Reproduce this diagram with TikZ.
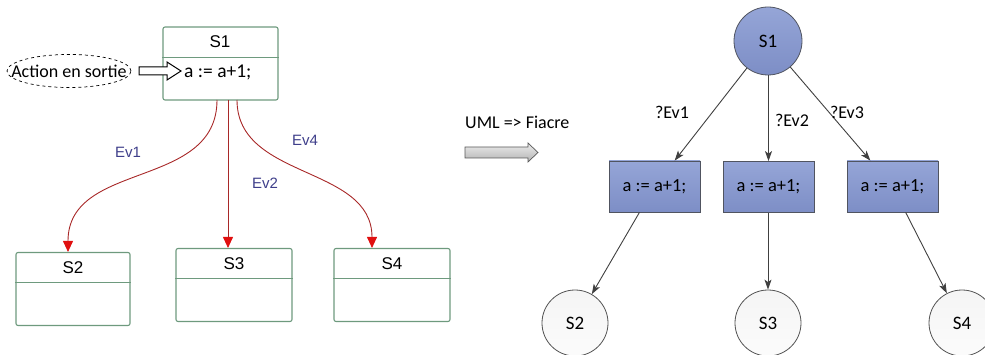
\documentclass[tikz,border=0pt]{standalone}
\usepackage{fontspec}
\setmainfont{Carlito}
\newfontfamily\arialf{Liberation Sans}
\usetikzlibrary{shapes.geometric,arrows.meta}
\definecolor{umlgreen}{HTML}{6E9A7E}
\definecolor{umlred}{HTML}{A82828}
\definecolor{headred}{HTML}{E01010}
\definecolor{evblue}{HTML}{3E3E8A}
\definecolor{fbluetop}{HTML}{95A5D7}
\definecolor{fbluebot}{HTML}{7D8EC6}
\definecolor{fborder}{HTML}{505460}
\definecolor{garrow}{HTML}{404040}
\begin{document}
\begin{tikzpicture}[x=1pt,y=-1pt,
  umlbox/.style={draw=umlgreen,line width=1.1pt,rounded corners=2pt,inner sep=0pt,fill=white},
  umltxt/.style={font=\arialf\fontsize{17}{19}\selectfont,inner sep=0pt},
  evtxt/.style={font=\arialf\fontsize{15}{17}\selectfont,text=evblue,inner sep=0pt},
  redarr/.style={draw=umlred,line width=0.9pt,-{Triangle[length=11pt,width=10pt,fill=headred,color=headred]}},
  ctxt/.style={font=\fontsize{18}{20}\selectfont,inner sep=0pt},
  fstate/.style={circle,draw=fborder,line width=0.8pt,top color=fbluetop,bottom color=fbluebot,minimum size=68pt,inner sep=0pt,font=\fontsize{19}{21}\selectfont},
  fbox/.style={rectangle,draw=fborder,line width=0.8pt,top color=fbluetop,bottom color=fbluebot,minimum width=91pt,minimum height=51pt,inner sep=0pt,font=\fontsize{18.5}{20}\selectfont},
  gstate/.style={circle,draw=garrow!90,line width=0.8pt,top color=gray!8,bottom color=gray!3,minimum size=66pt,inner sep=0pt,font=\fontsize{19}{21}\selectfont},
  farr/.style={draw=garrow,line width=0.9pt,-{Stealth[length=10pt,width=7pt,inset=2.5pt]}}
]
\useasboundingbox (0,0) rectangle (985,355);

% ---------- left: UML ----------
\node[umlbox,minimum width=115pt,minimum height=73pt] (L1) at (220.5,63.5) {};
\draw[umlgreen,line width=1.1pt] ([yshift=-31pt]L1.north west) -- ([yshift=-31pt]L1.north east);
\node[umltxt] (L1t) at (220,42) {S1};
\node[ctxt,anchor=west,font=\fontsize{19.5}{21}\selectfont] (L1a) at (184,72) {a := a+1;};

\node[ellipse,draw,dashed,line width=0.7pt,minimum width=124pt,minimum height=33pt,inner sep=0pt] (act) at (69,71) {};
\node[ctxt] (actt) at (69,71) {Action en sortie};
\draw[line width=1pt,fill=white] (139,67) -- (167,67) -- (167,62) -- (181,71) -- (167,80) -- (167,75) -- (139,75) -- cycle;

\node[umlbox,minimum width=114pt,minimum height=73pt] (L2) at (73,289) {};
\draw[umlgreen,line width=1.1pt] ([yshift=-31pt]L2.north west) -- ([yshift=-31pt]L2.north east);
\node[umltxt] at (73,268) {S2};

\node[umlbox,minimum width=116pt,minimum height=73pt] (L3) at (234,285) {};
\draw[umlgreen,line width=1.1pt] ([yshift=-31pt]L3.north west) -- ([yshift=-31pt]L3.north east);
\node[umltxt] at (234,264) {S3};

\node[umlbox,minimum width=116pt,minimum height=73pt] (L4) at (392,285) {};
\draw[umlgreen,line width=1.1pt] ([yshift=-31pt]L4.north west) -- ([yshift=-31pt]L4.north east);
\node[umltxt] at (392,264) {S4};

\coordinate (e1s) at (217,100);
\coordinate (e2s) at (228,100);
\coordinate (e4s) at (237,100);
\draw[redarr] (e1s) .. controls (217,190) and (68,160) .. (L2.north -| 68,0);
\draw[redarr] (e2s) -- (L3.north -| e2s);
\draw[redarr] (e4s) .. controls (237,180) and (372,165) .. (L4.north -| 372,0);
\node[evtxt] at (128,152) {Ev1};
\node[evtxt] at (265,183) {Ev2};
\node[evtxt] at (305,140) {Ev4};

% ---------- middle ----------
\node[ctxt,anchor=west] (uml) at (465,122) {UML => Fiacre};
\draw[line width=0.7pt,draw=gray!70!black,top color=gray!15,bottom color=gray!60]
  (465,147) -- (528,147) -- (528,143) -- (538,152.5) -- (528,162) -- (528,158) -- (465,158) -- cycle;

% ---------- right: Fiacre ----------
\node[fstate] (R1) at (768,41) {S1};
\node[fbox] (B1) at (654.5,186.5) {a := a+1;};
\node[fbox] (B2) at (768.5,187) {a := a+1;};
\node[fbox] (B3) at (892.5,186.5) {a := a+1;};
\node[gstate] (C2) at (575,323) {S2};
\node[gstate] (C3) at (768,323) {S3};
\node[gstate] (C4) at (962,323) {S4};

\draw[farr] (R1) -- (B1);
\draw[farr] (R1.south -| B2) -- (B2);
\draw[farr] (R1) -- (B3);
\draw[farr] (B1) -- (C2);
\draw[farr] (B2.south -| C3) -- (C3);
\draw[farr] (B3) -- (C4);

\node[ctxt] at (672,112) {?Ev1};
\node[ctxt] at (792,120) {?Ev2};
\node[ctxt] at (847,112) {?Ev3};
\end{tikzpicture}
\end{document}
